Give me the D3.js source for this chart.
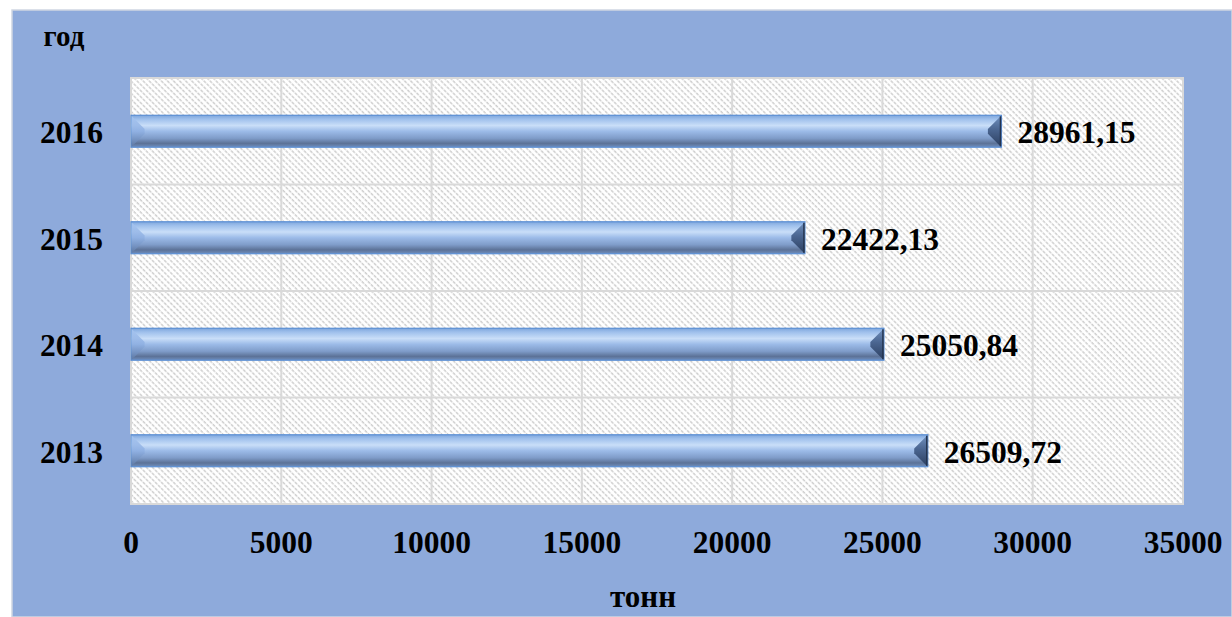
<!DOCTYPE html>
<html>
<head>
<meta charset="utf-8">
<script src="https://cdn.jsdelivr.net/npm/d3@7"></script>
<style>
  body { margin: 0; background: #ffffff; }
  text { font-family: "Liberation Serif", "Times New Roman", serif; font-weight: bold; fill: #000; }
</style>
</head>
<body>
<div class="chart"></div>
<script>
// data
var years = ["2013", "2014", "2015", "2016"];
var values = [26509.72, 25050.84, 22422.13, 28961.15];
var valueLabels = ["26509,72", "25050,84", "22422,13", "28961,15"];
var xTicks = [0, 5000, 10000, 15000, 20000, 25000, 30000, 35000];

var svgWidth = 1232, svgHeight = 617;
var plot = { left: 131, right: 1183, top: 78, bottom: 504 };

var svg = d3.select(".chart").append("svg")
  .attr("width", svgWidth)
  .attr("height", svgHeight);

var defs = svg.append("defs");

// hatch pattern of plot area
var pat = defs.append("pattern")
  .attr("id", "hatch")
  .attr("patternUnits", "userSpaceOnUse")
  .attr("width", 4.3)
  .attr("height", 4.3)
  .attr("patternTransform", "rotate(-45)");
pat.append("rect").attr("width", 4.3).attr("height", 4.3).attr("fill", "#ffffff");
pat.append("line")
  .attr("x1", 1).attr("y1", 0).attr("x2", 1).attr("y2", 4.3)
  .attr("stroke", "#cfcfcf")
  .attr("stroke-width", 1.5)
  .attr("stroke-dasharray", "2.2,1");

// bar body gradient
var grad = defs.append("linearGradient")
  .attr("id", "barGrad")
  .attr("x1", 0).attr("y1", 0).attr("x2", 0).attr("y2", 1);
[[0, "#7ea6dc"], [0.12, "#9fc0ec"], [0.32, "#c9def8"], [0.5, "#9cbbe8"],
 [0.72, "#7f9cc9"], [0.88, "#5c7297"], [1, "#6f8fbf"]].forEach(function(s) {
  grad.append("stop").attr("offset", s[0]).attr("stop-color", s[1]);
});

var endGrad = defs.append("linearGradient")
  .attr("id", "endGrad")
  .attr("x1", 0).attr("y1", 0).attr("x2", 0).attr("y2", 1);
[[0, "#6f8fbd"], [0.45, "#4a6590"], [1, "#2c3f60"]].forEach(function(s) {
  endGrad.append("stop").attr("offset", s[0]).attr("stop-color", s[1]);
});

var startGrad = defs.append("linearGradient")
  .attr("id", "startGrad")
  .attr("x1", 0).attr("y1", 0).attr("x2", 0).attr("y2", 1);
[[0, "#a8c6f0"], [0.5, "#8fb0e2"], [1, "#5e7aa6"]].forEach(function(s) {
  startGrad.append("stop").attr("offset", s[0]).attr("stop-color", s[1]);
});

// blue background
svg.append("rect")
  .attr("x", 12).attr("y", 10)
  .attr("width", svgWidth - 12).attr("height", svgHeight - 10)
  .attr("fill", "#8eaadb")
  .attr("stroke", "#cfd6e2")
  .attr("stroke-width", 1.5);

// scales
var xScale = d3.scaleLinear()
  .domain([0, 35000])
  .range([plot.left, plot.right]);

var yOrder = years.slice().reverse();

var yScale = d3.scaleBand()
  .domain(yOrder)
  .range([plot.top, plot.bottom])
  .paddingInner(0.7)
  .paddingOuter(0.35);

var yGrid = d3.scaleBand()
  .domain(yOrder)
  .range([plot.top, plot.bottom])
  .padding(0);

// plot area
svg.append("rect")
  .attr("x", plot.left).attr("y", plot.top)
  .attr("width", plot.right - plot.left)
  .attr("height", plot.bottom - plot.top)
  .attr("fill", "url(#hatch)");

// vertical gridlines
svg.append("g")
  .selectAll("line")
  .data(xTicks)
  .enter()
  .append("line")
  .attr("x1", d => xScale(d)).attr("x2", d => xScale(d))
  .attr("y1", plot.top).attr("y2", plot.bottom)
  .attr("stroke", "#d9d9d9")
  .attr("stroke-width", 2);

// horizontal gridlines between categories
svg.append("g")
  .selectAll("line")
  .data(yOrder)
  .enter()
  .append("line")
  .attr("x1", plot.left).attr("x2", plot.right)
  .attr("y1", d => yGrid(d)).attr("y2", d => yGrid(d))
  .attr("stroke", "#d9d9d9")
  .attr("stroke-width", 2);

// plot border
svg.append("rect")
  .attr("x", plot.left).attr("y", plot.top)
  .attr("width", plot.right - plot.left)
  .attr("height", plot.bottom - plot.top)
  .attr("fill", "none")
  .attr("stroke", "#d9d9d9")
  .attr("stroke-width", 2);

var data = years.map(function(y, i) {
  return { year: y, value: values[i], label: valueLabels[i] };
});

// bars
var bh = yScale.bandwidth();
var bev = 13;
var bars = svg.append("g")
  .selectAll("g")
  .data(data)
  .enter()
  .append("g");

bars.append("rect")
  .attr("x", xScale(0))
  .attr("y", d => yScale(d.year))
  .attr("width", d => xScale(d.value) - xScale(0))
  .attr("height", bh)
  .attr("fill", "url(#barGrad)")
  .attr("stroke", "#5b8fd4")
  .attr("stroke-width", 1.2);

// left bevel
bars.append("polygon")
  .attr("points", function(d) {
    var x0 = xScale(0) + 0.6, y0 = yScale(d.year) + 0.6, y1 = y0 + bh - 1.2;
    return [[x0, y0], [x0 + bev, y0 + bev], [x0 + bev, y1 - bev], [x0, y1]].join(" ");
  })
  .attr("fill", "url(#startGrad)")
  .attr("opacity", 0.9);

// right bevel
bars.append("polygon")
  .attr("points", function(d) {
    var x1 = xScale(d.value) - 0.6, y0 = yScale(d.year) + 0.6, y1 = y0 + bh - 1.2;
    return [[x1, y0], [x1 - bev, y0 + bev], [x1 - bev, y1 - bev], [x1, y1]].join(" ");
  })
  .attr("fill", "url(#endGrad)");

bars.append("line")
  .attr("x1", d => xScale(d.value) - 1).attr("x2", d => xScale(d.value) - 1)
  .attr("y1", d => yScale(d.year) + 1).attr("y2", d => yScale(d.year) + bh - 1)
  .attr("stroke", "#24344f")
  .attr("stroke-width", 1.5);

// value labels
bars.append("text")
  .attr("x", d => xScale(d.value) + 16)
  .attr("y", d => yScale(d.year) + bh / 2 + 12)
  .style("font-size", "31.5px")
  .text(d => d.label);

// y category labels
svg.append("g")
  .selectAll("text")
  .data(years)
  .enter()
  .append("text")
  .attr("x", 103)
  .attr("y", d => yScale(d) + bh / 2 + 12)
  .attr("text-anchor", "end")
  .style("font-size", "31.5px")
  .text(d => d);

// x tick labels
svg.append("g")
  .selectAll("text")
  .data(xTicks)
  .enter()
  .append("text")
  .attr("x", d => xScale(d))
  .attr("y", 553)
  .attr("text-anchor", "middle")
  .style("font-size", "31.5px")
  .text(d => d);

// axis titles
svg.append("text")
  .attr("x", 64).attr("y", 46)
  .attr("text-anchor", "middle")
  .style("font-size", "29px")
  .text("год");

svg.append("text")
  .attr("x", 643).attr("y", 607)
  .attr("text-anchor", "middle")
  .style("font-size", "31px")
  .text("тонн");
</script>
</body>
</html>
